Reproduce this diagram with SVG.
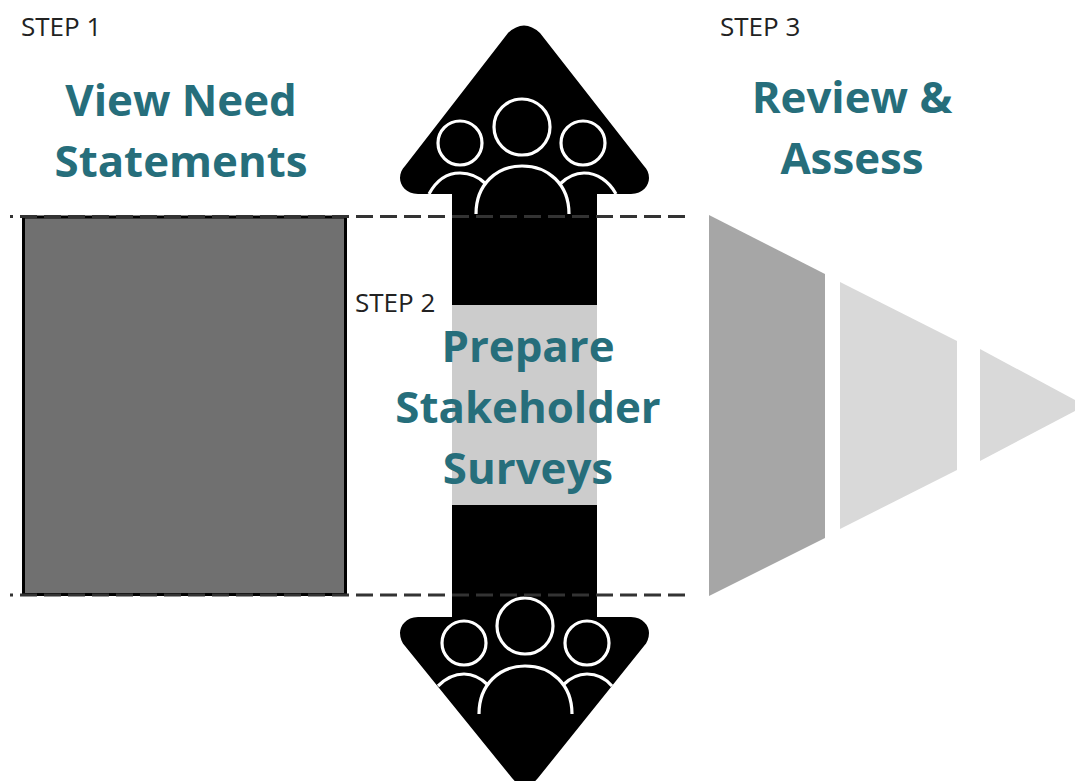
<svg xmlns="http://www.w3.org/2000/svg" width="1075" height="781" viewBox="0 0 1075 781">
<style>
.title{font-family:"Open Sans","Noto Sans",sans-serif;font-weight:700;font-size:43.800px;fill:#266e7b;text-anchor:middle}
.step{font-family:"Open Sans","Noto Sans",sans-serif;font-size:26px;fill:#222}
.ic{fill:none;stroke:#fff;stroke-width:3.200;stroke-linecap:butt}
.dash{fill:none;stroke:#333;stroke-width:3.200;stroke-dasharray:17 7}
</style>
<rect width="1075" height="781" fill="#fff"/>
<g id="arrow">
<path d="M452 770V617H418C406 617 400 626 400 633C400 638 402 643 405 646L512 778Q525 794 538 778L644 646C647 643 649 638 649 633C649 626 643 617 631 617H597V194H631C643 194 649 185 649 178C649 173 647 169 644 166L540 33Q524 18 508 33L405 166C402 169 400 173 400 178C400 185 406 194 418 194H452Z" fill="#000"/>
<rect x="452" y="305" width="145" height="200" fill="#ccc"/>
</g>
<g id="people-top">
<circle class="ic" cx="522" cy="127" r="28"/>
<circle class="ic" cx="460" cy="143" r="22"/>
<circle class="ic" cx="583" cy="143" r="22"/>
<path class="ic" d="M476 214C476 184 497 166 522 166C548 166 569 184 569 214"/>
<path class="ic" d="M429 194C436 181 447 173 460 173C470 173 479 177 486 184"/>
<path class="ic" d="M560 184C567 177 575 173 584 173C597 173 609 181 616 194"/>
</g>
<g id="people-bottom">
<circle class="ic" cx="525" cy="626" r="28"/>
<circle class="ic" cx="464" cy="643" r="22"/>
<circle class="ic" cx="587" cy="643" r="22"/>
<path class="ic" d="M479 714C479 684 500 666 525 666C551 666 572 684 572 714"/>
<path class="ic" d="M438 686C445 679 454 674 464 674C473 674 481 678 488 685"/>
<path class="ic" d="M563 685C570 678 578 674 587 674C597 674 606 679 612 686"/>
</g>
<g id="step1-box"><rect x="23.500" y="217" width="322" height="377.500" fill="#707070" stroke="#000" stroke-width="3"/></g>
<g id="connectors">
<path class="dash" d="M685 216.500H10"/>
<path class="dash" d="M685 595H10"/>
</g>
<g id="funnel">
<polygon points="709,215 825,274 825,538 709,596" fill="#a6a6a6"/>
<polygon points="840,282 957,341 957,470 840,529" fill="#d9d9d9"/>
<polygon points="980,349 1075,400 1075,411 980,461" fill="#d9d9d9"/>
</g>
<g id="step1"><text class="step" x="21" y="36">STEP 1</text>
<text class="title" x="181" y="116">View Need</text><text class="title" x="181" y="177">Statements</text></g>
<g id="step2"><text class="step" x="355" y="312">STEP 2</text>
<text class="title" x="528" y="362">Prepare</text><text class="title" x="528" y="423">Stakeholder</text><text class="title" x="528" y="484">Surveys</text></g>
<g id="step3"><text class="step" x="720" y="36">STEP 3</text>
<text class="title" x="852" y="113">Review &amp;</text><text class="title" x="852" y="174">Assess</text></g>
</svg>
